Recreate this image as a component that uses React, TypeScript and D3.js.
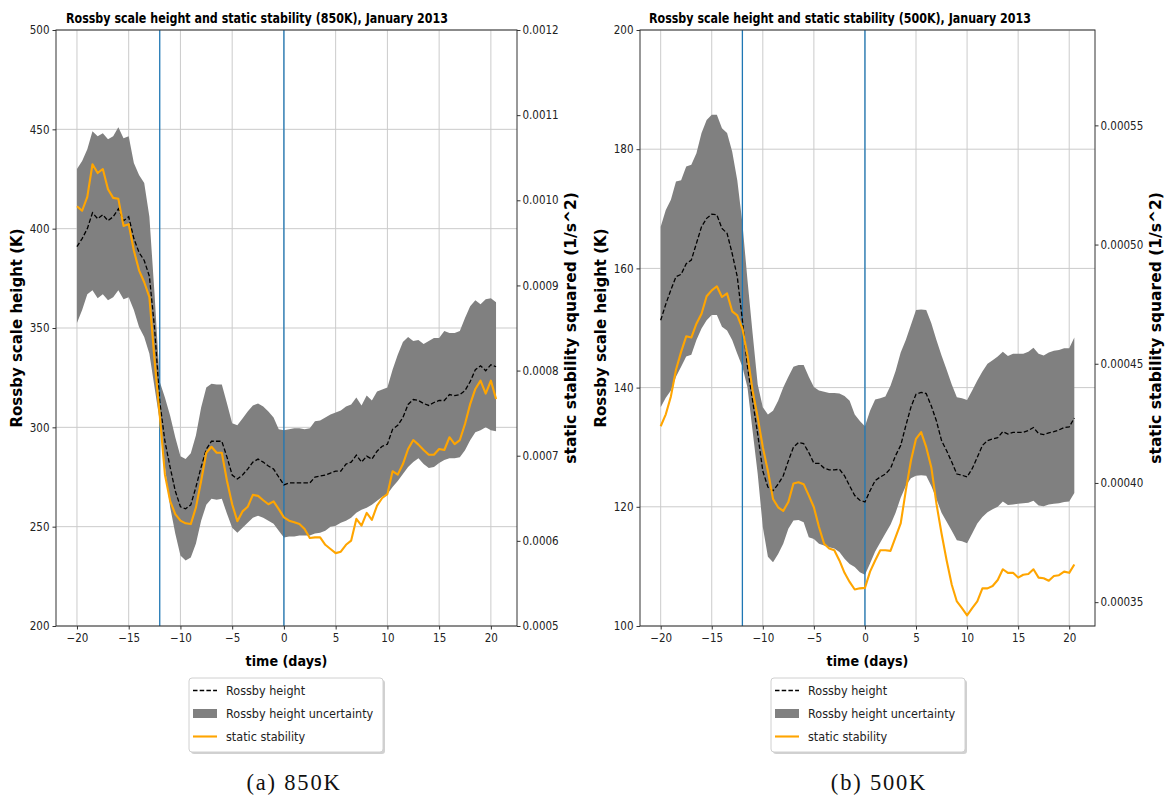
import React, { useEffect, useRef } from 'react';
import * as d3 from 'd3';

// time axis (days relative to event), half-day steps
const days = [
  -20, -19.5, -19, -18.5, -18, -17.5, -17, -16.5, -16, -15.5,
  -15, -14.5, -14, -13.5, -13, -12.5, -12, -11.5, -11, -10.5,
  -10, -9.5, -9, -8.5, -8, -7.5, -7, -6.5, -6, -5.5,
  -5, -4.5, -4, -3.5, -3, -2.5, -2, -1.5, -1, -0.5,
  0, 0.5, 1, 1.5, 2, 2.5, 3, 3.5, 4, 4.5,
  5, 5.5, 6, 6.5, 7, 7.5, 8, 8.5, 9, 9.5,
  10, 10.5, 11, 11.5, 12, 12.5, 13, 13.5, 14, 14.5,
  15, 15.5, 16, 16.5, 17, 17.5, 18, 18.5, 19, 19.5,
  20, 20.5,
];

const eventDays = [-12, 0];
const xTicks = [-20, -15, -10, -5, 0, 5, 10, 15, 20];

// 850K panel
const rossby850 = [
  391, 395, 400, 408, 405, 407, 404, 406, 410, 404,
  406, 395, 388, 384, 376, 350, 313, 293, 280, 268,
  260, 259, 261, 270, 280, 289, 293, 293, 293, 285,
  276, 274, 276, 279, 282.5, 284, 282.5, 280.5, 279, 275,
  271, 272, 272, 272, 272, 272, 275, 275.5, 276, 277,
  278, 278, 281.5, 282.5, 286, 282.5, 285.5, 284, 288, 290.5,
  291.5, 299, 301, 305, 311.5, 314, 313.5, 312, 311, 312.5,
  313.5, 313.5, 316.5, 316, 316.5, 318.5, 323, 329, 331, 328.5,
  331.5, 330.5,
];
const upper850 = [
  430, 434, 440, 449, 446.5, 448, 445, 446.5, 451, 445.5,
  446.5, 433, 427, 423, 406, 367, 323, 315, 306, 295,
  285.5, 284, 287, 296, 310, 320, 322, 321.5, 321.5, 312,
  302, 301, 304.5, 308, 311, 312, 310.5, 308, 305, 299,
  298.5, 299, 299.5, 299.5, 299, 299.5, 303, 303.5, 305, 306.5,
  307.5, 308.5, 310.5, 311.5, 315, 311, 316, 313.5, 318, 319,
  320, 329, 336.5, 343, 345.5, 343.5, 344, 342, 343.5, 345,
  345, 348.5, 347.5, 347.5, 348.5, 355, 361, 364, 362, 364.5,
  365, 363,
];
const lower850 = [
  352.5, 359, 367, 369, 365, 367, 364, 365.5, 369, 364.5,
  365.5, 359, 350.5, 345.5, 337, 320, 303, 280, 260, 246.5,
  235.5, 233, 234.5, 241.5, 253, 261, 264, 263.5, 264, 256.5,
  249.5, 247, 249.5, 252, 254.5, 255.5, 254.5, 253, 251.5, 248,
  244.5, 245, 245, 245.5, 245.5, 245.5, 246.5, 247, 248, 250,
  250.5, 252, 253, 254.5, 257, 258.5, 259.5, 261, 263, 265,
  266.5, 270, 273, 276.5, 280, 282.5, 284.5, 281.5, 279.5, 280,
  282, 283.5, 284.5, 284.5, 285, 288.5, 293.5, 297.5, 298.5, 300,
  298.5, 298,
];
const stability850 = [
  0.000993, 0.0009877, 0.001004, 0.0010423, 0.001032, 0.0010367, 0.0010129, 0.0010028, 0.0010017, 0.0009699,
  0.000972, 0.000941, 0.0009177, 0.0009037, 0.0008862, 0.000812, 0.0007473, 0.000678, 0.000647, 0.0006314,
  0.0006237, 0.0006206, 0.0006197, 0.0006393, 0.0006703, 0.0007035, 0.0007105, 0.0007035, 0.0007035, 0.0006703,
  0.000643, 0.000623, 0.0006346, 0.00064, 0.000654, 0.0006528, 0.0006477, 0.000643, 0.0006463, 0.0006372,
  0.0006276, 0.0006237, 0.0006218, 0.0006197, 0.0006139, 0.0006034, 0.0006041, 0.0006041, 0.0005954, 0.0005905,
  0.0005856, 0.0005873, 0.0005954, 0.0006003, 0.0006258, 0.0006178, 0.0006328, 0.0006246, 0.0006414, 0.0006503,
  0.0006549, 0.0006818, 0.0006778, 0.0006902, 0.0007079, 0.0007184, 0.000713, 0.0007067, 0.0007011, 0.0007011,
  0.0007079, 0.0007067, 0.0007217, 0.0007137, 0.0007184, 0.0007373, 0.0007606, 0.0007784, 0.0007882, 0.000773,
  0.0007882, 0.0007667,
];
const yTicks850 = [200, 250, 300, 350, 400, 450, 500];
const y2Ticks850 = [0.0005, 0.0006, 0.0007, 0.0008, 0.0009, 0.001, 0.0011, 0.0012];

// 500K panel
const rossby500 = [
  151.3, 154, 156.4, 158.6, 159, 160.8, 161.4, 164.2, 167, 168.4,
  169.1, 169, 166.7, 165.9, 162.5, 158.6, 151.3, 143.5, 137.8, 132.2,
  126, 123.3, 122.7, 123.8, 125.2, 127.7, 130, 130.8, 130.6, 129.1,
  127.3, 127.3, 126.5, 126.2, 126.2, 126.3, 125.2, 123.5, 121.9, 121.1,
  120.8, 122.7, 124.4, 125, 125.5, 126.4, 128.6, 130.3, 133.6, 136.7,
  138.9, 139.2, 139, 136.9, 134.4, 131.1, 129.4, 127.5, 125.5, 125.3,
  125, 126.4, 128.3, 130.3, 131.1, 131.4, 131.6, 132.6, 132.2, 132.5,
  132.5, 132.5, 132.8, 133.3, 132.3, 132.1, 132.4, 132.6, 132.9, 133.3,
  133.4, 134.9,
];
const upper500 = [
  167, 169.8, 171.5, 174.6, 174.8, 177.1, 177.4, 179.3, 182.7, 184.9,
  185.8, 185.8, 183.5, 182.7, 179.6, 174.8, 167.6, 158, 149.1, 140.5,
  136.7, 135.5, 136.1, 137.8, 140, 141.8, 143.5, 143.8, 143.8, 141.8,
  140.1, 139.5, 139.3, 139.1, 139.1, 139, 138.6, 137.8, 135.5, 134.4,
  133.5, 136.1, 138, 138.2, 138.5, 140.3, 142.8, 145.9, 148, 150.5,
  153, 153.1, 153, 150.8, 148, 145.4, 143, 140.5, 138.4, 138.2,
  137.9, 139.5, 141.2, 142.7, 144, 144.6, 145.2, 146, 145.3, 145.7,
  145.7, 145.7, 146, 146.7, 145.7, 145.4, 145.9, 146.2, 146.3, 146.6,
  146.6, 148.4,
];
const lower500 = [
  136.7, 138.3, 139.5, 141.8, 143.5, 145.2, 145.5, 148, 149.9, 151.3,
  152.2, 152.2, 150.2, 149.6, 148, 145.7, 143.5, 140, 132.7, 125.5,
  116.6, 111.6, 110.7, 112.1, 113.8, 116.3, 117.7, 117.8, 117.4, 114.9,
  114.6, 113.8, 113.5, 113.2, 113, 112.4, 111.3, 110.4, 109.9, 109,
  108.6, 110.5, 112.5, 114, 115.5, 117, 119, 121.5, 123.5, 124.8,
  125.2, 125.3, 125.2, 123.5, 121.3, 119, 117.5, 116, 114.4, 114.2,
  113.9, 115.5, 117.2, 118.3, 119.1, 119.6, 120, 120.9, 120.3, 120.4,
  120.5, 120.6, 120.7, 121, 120.2, 120.1, 120.4, 120.5, 120.6, 120.8,
  120.9, 122.3,
];
const stability500 = [
  0.0004238, 0.0004288, 0.0004363, 0.0004475, 0.000455, 0.0004615, 0.000461, 0.0004668, 0.000471, 0.0004783,
  0.0004808, 0.0004825, 0.000478, 0.0004795, 0.000472, 0.0004703, 0.0004648, 0.0004535, 0.0004388, 0.0004275,
  0.000415, 0.000405, 0.0003933, 0.0003898, 0.0003883, 0.000392, 0.0003998, 0.0004003, 0.0003995, 0.0003948,
  0.0003898, 0.0003815, 0.0003745, 0.0003725, 0.0003718, 0.0003675, 0.0003623, 0.0003585, 0.0003553, 0.0003558,
  0.000356, 0.0003628, 0.0003675, 0.0003718, 0.0003718, 0.0003715, 0.0003773, 0.000383, 0.0003968, 0.0004093,
  0.0004185, 0.0004213, 0.000415, 0.0004065, 0.0003913, 0.0003788, 0.0003675, 0.0003573, 0.0003503, 0.0003475,
  0.0003445, 0.0003475, 0.0003503, 0.0003558, 0.0003558, 0.0003568, 0.0003593, 0.0003638, 0.0003623, 0.0003623,
  0.0003603, 0.0003615, 0.0003618, 0.0003638, 0.0003603, 0.00036, 0.000359, 0.000361, 0.0003613, 0.0003628,
  0.0003623, 0.0003658,
];
const yTicks500 = [100, 120, 140, 160, 180, 200];
const y2Ticks500 = [0.00035, 0.0004, 0.00045, 0.0005, 0.00055];

const legendLabels = ['Rossby height', 'Rossby height uncertainty', 'static stability'];

const COND = "'DejaVu Sans Condensed', 'DejaVu Sans', sans-serif";
const BOLD = "'DejaVu Sans', sans-serif";

interface PanelSpec {
  left: number;
  right: number;
  top: number;
  bottom: number;
  title: string;
  titleX: number;
  rossby: number[];
  upper: number[];
  lower: number[];
  stability: number[];
  yDomain: [number, number];
  yTicks: number[];
  y2Domain: [number, number];
  y2Ticks: number[];
  y2Fmt: string;
  y2LabelOffset: number;
  legendX: number;
  caption: string;
  captionX: number;
}

const panels: PanelSpec[] = [
  {
    left: 56, right: 517, top: 30, bottom: 626,
    title: 'Rossby scale height and static stability (850K), January 2013', titleX: 257,
    rossby: rossby850, upper: upper850, lower: lower850, stability: stability850,
    yDomain: [200, 500], yTicks: yTicks850,
    y2Domain: [0.0005, 0.0012], y2Ticks: y2Ticks850, y2Fmt: '.4f', y2LabelOffset: 59,
    legendX: 189, caption: '(a) 850K', captionX: 294,
  },
  {
    left: 640, right: 1095, top: 30, bottom: 626,
    title: 'Rossby scale height and static stability (500K), January 2013', titleX: 840,
    rossby: rossby500, upper: upper500, lower: lower500, stability: stability500,
    yDomain: [100, 200], yTicks: yTicks500,
    y2Domain: [0.00034, 0.00059], y2Ticks: y2Ticks500, y2Fmt: '.5f', y2LabelOffset: 66,
    legendX: 771, caption: '(b) 500K', captionX: 879,
  },
];

const Panel: React.FC<{ spec: PanelSpec }> = ({ spec }) => {
  const ref = useRef<SVGGElement>(null);

  useEffect(() => {
    if (!ref.current) return;
    const g = d3.select(ref.current);
    g.selectAll('*').remove();

    const { left, right, top, bottom } = spec;
    const x = d3.scaleLinear().domain([-22.025, 22.525]).range([left, right]);
    const y = d3.scaleLinear().domain(spec.yDomain).range([bottom, top]);
    const y2 = d3.scaleLinear().domain(spec.y2Domain).range([bottom, top]);

    // grid
    const grid = g.append('g').attr('stroke', '#cbcbcb').attr('stroke-width', 1);
    grid.selectAll('.gx').data(xTicks).join('line')
      .attr('x1', d => x(d)).attr('x2', d => x(d))
      .attr('y1', top).attr('y2', bottom);
    grid.selectAll('.gy').data(spec.yTicks).join('line')
      .attr('x1', left).attr('x2', right)
      .attr('y1', d => y(d)).attr('y2', d => y(d));

    // uncertainty band
    const band = d3.area<number>()
      .x((_, i) => x(days[i]))
      .y0((_, i) => y(spec.lower[i]))
      .y1(d => y(d));
    g.append('path').datum(spec.upper).attr('d', band).attr('fill', '#808080');

    // event markers
    g.append('g').selectAll('line').data(eventDays).join('line')
      .attr('x1', d => x(d)).attr('x2', d => x(d))
      .attr('y1', top).attr('y2', bottom)
      .attr('stroke', '#1f77b4').attr('stroke-width', 1.3);

    // rossby height
    const line = d3.line<number>().x((_, i) => x(days[i])).y(d => y(d));
    g.append('path').datum(spec.rossby).attr('d', line)
      .attr('fill', 'none').attr('stroke', '#000').attr('stroke-width', 1.3)
      .attr('stroke-dasharray', '4.5,2.2');

    // static stability on twin axis
    const line2 = d3.line<number>().x((_, i) => x(days[i])).y(d => y2(d));
    g.append('path').datum(spec.stability).attr('d', line2)
      .attr('fill', 'none').attr('stroke', '#ffa500').attr('stroke-width', 2.1)
      .attr('stroke-linejoin', 'round');

    // frame
    g.append('rect').attr('x', left).attr('y', top)
      .attr('width', right - left).attr('height', bottom - top)
      .attr('fill', 'none').attr('stroke', '#333').attr('stroke-width', 1);

    const styleAxis = (sel: d3.Selection<SVGGElement, unknown, null, undefined>) => {
      sel.select('.domain').remove();
      sel.attr('font-family', COND).attr('font-size', 11.5);
      sel.selectAll('line').attr('stroke', '#333');
      sel.selectAll('text').attr('fill', '#222');
    };

    g.append('g').attr('transform', `translate(0,${bottom})`)
      .call(d3.axisBottom(x).tickValues(xTicks).tickSize(3.5).tickPadding(4).tickFormat(d3.format('d')))
      .call(styleAxis);
    g.append('g').attr('transform', `translate(${left},0)`)
      .call(d3.axisLeft(y).tickValues(spec.yTicks).tickSize(3.5).tickPadding(3).tickFormat(d3.format('d')))
      .call(styleAxis);
    g.append('g').attr('transform', `translate(${right},0)`)
      .call(d3.axisRight(y2).tickValues(spec.y2Ticks).tickSize(3.5).tickPadding(2).tickFormat(d3.format(spec.y2Fmt)))
      .call(styleAxis);

    // titles and labels
    g.append('text').attr('x', spec.titleX).attr('y', 23).attr('text-anchor', 'middle')
      .attr('font-family', COND).attr('font-weight', 'bold').attr('font-size', 14.5)
      .attr('textLength', 382).attr('lengthAdjust', 'spacingAndGlyphs')
      .text(spec.title);
    g.append('text').attr('x', (left + right) / 2).attr('y', 666).attr('text-anchor', 'middle')
      .attr('font-family', COND).attr('font-weight', 'bold').attr('font-size', 14.2)
      .text('time (days)');
    g.append('text')
      .attr('transform', `translate(${left - 34},${(top + bottom) / 2}) rotate(-90)`)
      .attr('text-anchor', 'middle')
      .attr('font-family', BOLD).attr('font-weight', 'bold').attr('font-size', 15)
      .text('Rossby scale height (K)');
    g.append('text')
      .attr('transform', `translate(${right + spec.y2LabelOffset},${(top + bottom) / 2}) rotate(-90)`)
      .attr('text-anchor', 'middle')
      .attr('font-family', BOLD).attr('font-weight', 'bold').attr('font-size', 15.5)
      .text('static stability squared (1/s^2)');

    // legend
    const lg = g.append('g').attr('transform', `translate(${spec.legendX},678)`);
    lg.append('rect').attr('x', 2).attr('y', 2).attr('width', 194).attr('height', 74)
      .attr('rx', 3).attr('fill', '#000').attr('opacity', 0.18);
    lg.append('rect').attr('width', 194).attr('height', 74).attr('rx', 3)
      .attr('fill', '#fff').attr('stroke', '#d0d0d0');
    const rows = lg.selectAll('.row').data(legendLabels).join('g')
      .attr('transform', (_, i) => `translate(0,${12.5 + i * 23})`);
    rows.each(function (_, i) {
      const r = d3.select(this);
      if (i === 0) {
        r.append('line').attr('x1', 4).attr('x2', 28).attr('stroke', '#000')
          .attr('stroke-width', 1.3).attr('stroke-dasharray', '4.5,2.2');
      } else if (i === 1) {
        r.append('rect').attr('x', 4).attr('y', -4.5).attr('width', 24).attr('height', 9).attr('fill', '#808080');
      } else {
        r.append('line').attr('x1', 4).attr('x2', 28).attr('stroke', '#ffa500').attr('stroke-width', 2.1);
      }
    });
    rows.append('text').attr('x', 37).attr('y', 4.5)
      .attr('font-family', COND).attr('font-size', 12.5).attr('fill', '#222')
      .text(d => d);

    // caption
    g.append('text').attr('x', spec.captionX).attr('y', 790).attr('text-anchor', 'middle')
      .attr('font-family', "'Liberation Serif', serif").attr('font-size', 22.5)
      .attr('letter-spacing', 1.8).attr('fill', '#111')
      .text(spec.caption);
  }, [spec]);

  return <g ref={ref} />;
};

export default function App() {
  return (
    <div style={{ position: 'absolute', left: 0, top: 0 }}>
      <svg width={1169} height={805} style={{ display: 'block', background: '#fff' }}>
        {panels.map((p, i) => <Panel key={i} spec={p} />)}
      </svg>
    </div>
  );
}
